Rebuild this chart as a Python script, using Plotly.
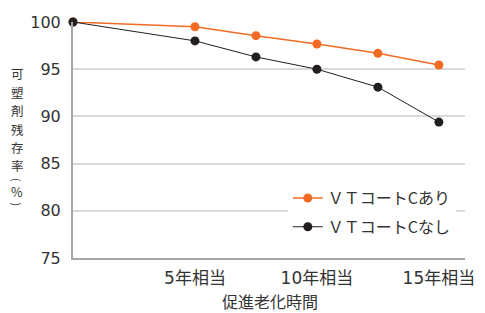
import plotly.graph_objects as go

years = [0, 5, 7.5, 10, 12.5, 15]
with_vt = [100, 99.5, 98.55, 97.67, 96.68, 95.44]
without_vt = [100, 98.0, 96.3, 95.0, 93.1, 89.4]
series_names = ["ＶＴコートCあり", "ＶＴコートCなし"]
xtick_vals = [5, 10, 15]
xtick_text = ["5年相当", "10年相当", "15年相当"]
ytick_vals = [75, 80, 85, 90, 95, 100]
ytitle_chars = ["可", "塑", "剤", "残", "存", "率", "(", "%", ")"]
xtitle = "促進老化時間"

CJK = "Noto Sans CJK JP"
NUM = "DejaVu Sans, Noto Sans CJK JP"
ORANGE = "#f26b25"
BLACK = "#231f20"
TXT = "#333333"

# figure geometry (page body has an 8px margin)
W, H = 477, 305
ML, MR, MT, MB = 65, 20, 14, 55
PW, PH = W - ML - MR, H - MT - MB

fig = go.Figure()
fig.add_trace(go.Scatter(
    x=years, y=with_vt, name=series_names[0], mode="lines+markers",
    legendgroup="a",
    line=dict(color=ORANGE, width=1.5), marker=dict(color=ORANGE, size=9),
    cliponaxis=False))
fig.add_trace(go.Scatter(
    x=years, y=without_vt, name=series_names[1], mode="lines+markers",
    legendgroup="b",
    line=dict(color=BLACK, width=1), marker=dict(color=BLACK, size=9),
    cliponaxis=False))

fig.update_layout(
    width=W, height=H,
    margin=dict(l=ML, r=MR, t=MT, b=MB, autoexpand=False),
    plot_bgcolor="white", paper_bgcolor="white",
    font=dict(family=CJK, color=TXT, size=15),
    showlegend=True,
    legend=dict(x=0.548, y=0.326, xanchor="left", yanchor="top",
                bgcolor="white", font=dict(size=16, color=TXT, family=CJK),
                traceorder="grouped", tracegroupgap=5),
    xaxis=dict(range=[0, 16.07], tickvals=xtick_vals, ticktext=xtick_text,
               showgrid=False, zeroline=False, showline=True,
               linecolor="#a6a6a6", linewidth=2, ticks="",
               ticklabelstandoff=4,
               tickfont=dict(size=17, color=TXT, family=NUM)),
    yaxis=dict(range=[75, 100], tickvals=ytick_vals, showgrid=True,
               gridcolor="#d9d9d9", gridwidth=1.5, zeroline=False,
               showline=True, linecolor="#a6a6a6", linewidth=2, ticks="",
               ticklabelstandoff=7,
               tickfont=dict(size=16, color=TXT, family=NUM)),
)

# white backing of the legend area (hides the grid line behind the legend)
fig.add_shape(type="rect", xref="paper", yref="paper", layer="between",
              x0=(253 - 8 - ML) / PW, x1=0.6,
              y0=(MT + PH - (240 - 8)) / PH, y1=(MT + PH - (185 - 8)) / PH,
              fillcolor="white", line=dict(width=0))

# x-axis title
fig.add_annotation(
    xref="paper", yref="paper",
    x=(270 - 8 - ML) / PW, y=(MT + PH - (301 - 8)) / PH,
    xanchor="center", yanchor="middle", showarrow=False, borderpad=0,
    text=xtitle, font=dict(size=16, color=TXT, family=CJK))

# vertical y-axis title, one glyph per line (brackets turned for vertical setting)
centres = [73.5, 92, 110.5, 129, 147.5, 166, 180, 191.5, 204.5]
for ch, cy in zip(ytitle_chars, centres):
    turned = ch in "()"
    fig.add_annotation(
        xref="paper", yref="paper",
        x=(17 - 8 - ML) / PW, y=(MT + PH - (cy - 8)) / PH,
        xanchor="center", yanchor="middle", showarrow=False, borderpad=0,
        textangle=90 if turned else 0,
        text=ch, font=dict(size=11 if turned else 12.5, color=TXT, family=CJK))

fig.write_html("out.html")
